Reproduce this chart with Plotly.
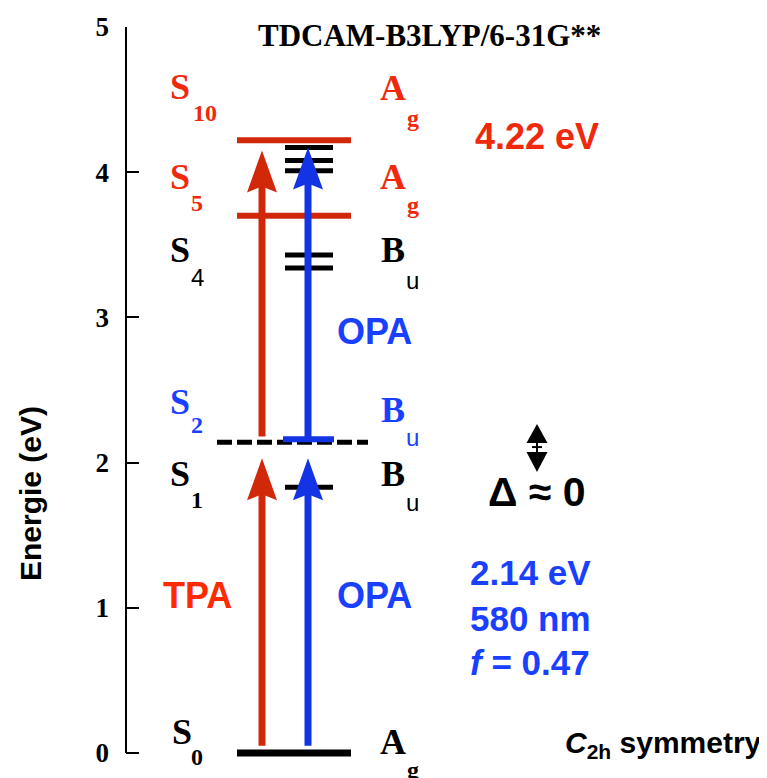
import plotly.graph_objects as go

# ---------------- data ----------------
# energy levels (eV) and their kind
level_energy = [0.00, 1.83, 2.14, 2.16, 3.34, 3.43, 3.70, 4.01, 4.08, 4.17, 4.22]
level_kind = ["ground", "short", "dashed", "blue", "short", "short",
              "red", "short", "short", "short", "red"]

# transitions: type, start energy, tip energy
arrow_type = ["TPA", "TPA", "OPA", "OPA"]
arrow_start = [0.05, 2.18, 0.05, 2.17]
arrow_tip = [2.03, 4.15, 2.03, 4.17]

# state labels
state_letter = ["S", "S", "S", "S", "S", "S"]
state_index = ["10", "5", "4", "2", "1", "0"]
sym_letter = ["A", "A", "B", "B", "B", "A"]
sym_index = ["g", "g", "u", "u", "u", "g"]
state_color = ["red", "red", "black", "blue", "black", "black"]

y_ticks = [0, 1, 2, 3, 4, 5]
y_tick_labels = ["0", "1", "2", "3", "4", "5"]

title_text = "TDCAM-B3LYP/6-31G**"
s10_value = "4.22 eV"
opa_lines = ["2.14 eV", "580 nm", "<i>f</i> = 0.47"]
delta_text = "Δ ≈ 0"
sym_text = "<i>C</i><sub>2h</sub> symmetry"
axis_title = "Energie (eV)"

# ---------------- styles / layout ----------------
W_PX, H_PX = 767, 778      # browser window
OFF = 8                    # default page body margin
L, T, B0 = 126, 27, 753    # axis x, y of 5 eV, y of 0 eV (window pixels)
PPE = (B0 - T) / 5.0       # pixels per eV
EXT = 6                    # extra plot room below 0 eV (pixels)
B = B0 + EXT
Y_LO = -EXT / PPE
PW, PH = W_PX - L, B - T

RED_LINE = "#d2280a"
RED_TEXT = "#f0280c"
BLUE_LINE = "#1234e4"
BLUE_TEXT = "#1a40ff"
COL = {"red": RED_TEXT, "blue": BLUE_TEXT, "black": "black"}
SERIF = "Liberation Serif"
SANS = "Liberation Sans"


def xp(px):
    return (px - L) / PW


def yp(py):
    return (B - py) / PH


kind_style = {
    "ground": dict(x0=237, x1=351, color="black", width=7, dash="solid"),
    "short": dict(x0=285, x1=333, color="black", width=5, dash="solid"),
    "dashed": dict(x0=217, x1=368, color="black", width=5, dash="15px,5px"),
    "blue": dict(x0=283, x1=334, color=BLUE_LINE, width=6, dash="solid"),
    "red": dict(x0=237, x1=351, color=RED_LINE, width=6, dash="solid"),
}
arrow_style = {"TPA": dict(x=262, color=RED_LINE), "OPA": dict(x=308, color=BLUE_LINE)}
HEAD_LEN = 42 / PPE
HEAD_NOTCH = 36 / PPE
HEAD_HALF = 15

shapes = []
# y axis line from 0 to 5 eV
shapes.append(dict(type="line", xref="paper", yref="y", x0=0, x1=0, y0=y_ticks[0], y1=y_ticks[-1],
                   line=dict(color="black", width=2)))
# levels
for e, k in zip(level_energy, level_kind):
    s = kind_style[k]
    shapes.append(dict(type="line", xref="x", yref="y", x0=s["x0"], x1=s["x1"],
                       y0=e, y1=e, line=dict(color=s["color"], width=s["width"], dash=s["dash"])))
# arrows
for t, e0, e1 in zip(arrow_type, arrow_start, arrow_tip):
    s = arrow_style[t]
    x = s["x"]
    shapes.append(dict(type="line", xref="x", yref="y", x0=x, x1=x, y0=e0, y1=e1 - HEAD_NOTCH + 0.02,
                       line=dict(color=s["color"], width=7)))
    path = (f"M {x},{e1} L {x - HEAD_HALF},{e1 - HEAD_LEN} L {x},{e1 - HEAD_NOTCH} "
            f"L {x + HEAD_HALF},{e1 - HEAD_LEN} Z")
    shapes.append(dict(type="path", xref="x", yref="y", path=path,
                       fillcolor=s["color"], line=dict(width=0)))

# double-headed arrow (Δ indicator)
dx = 537
up_tip, up_base, mid, dn_base, dn_tip = 2.266, 2.135, 2.107, 2.073, 1.935
shapes.append(dict(type="path", xref="x", yref="y",
                   path=f"M {dx},{up_tip} L {dx - 10.5},{up_base} L {dx + 10.5},{up_base} Z",
                   fillcolor="black", line=dict(width=0)))
shapes.append(dict(type="path", xref="x", yref="y",
                   path=f"M {dx},{dn_tip} L {dx - 10.5},{dn_base} L {dx + 10.5},{dn_base} Z",
                   fillcolor="black", line=dict(width=0)))
shapes.append(dict(type="line", xref="x", yref="y", x0=dx, x1=dx, y0=up_base, y1=dn_base,
                   line=dict(color="black", width=2)))
shapes.append(dict(type="line", xref="x", yref="y", x0=dx - 5, x1=dx + 5, y0=mid, y1=mid,
                   line=dict(color="black", width=2)))

annotations = []


def ann(text, x, y, size, color, family, bold=True, xanchor="center", angle=0):
    annotations.append(dict(text=text, x=xp(x), y=yp(y), xref="paper", yref="paper",
                            showarrow=False, xanchor=xanchor, yanchor="middle", textangle=angle,
                            font=dict(size=size, color=color, family=family,
                                      weight="bold" if bold else "normal")))


# state label positions (window pixels): letter x, y, sub x, y
left_pos = [(180, 87, 205, 113), (180, 177, 197, 203), (180, 250, 197, 277),
            (180, 402, 197, 425), (180, 474, 197, 500), (182, 732, 197, 757)]
right_pos = [(393, 88, 413, 118), (393, 177, 413, 205), (393, 250, 412, 280),
             (393, 410, 412, 437), (393, 474, 412, 502), (393, 742, 413, 770)]

for i in range(len(state_letter)):
    c = COL[state_color[i]]
    lx, ly, sx, sy = left_pos[i]
    ann(state_letter[i], lx, ly, 36, c, SERIF)
    sub_sans = state_index[i] == "4"
    ann(state_index[i], sx, sy, 24, c, SANS if sub_sans else SERIF, bold=not sub_sans)
    rx, ry, rsx, rsy = right_pos[i]
    ann(sym_letter[i], rx, ry, 36, c, SERIF)
    if sym_index[i] == "u":
        ann("u", rsx, rsy, 24, c, SANS, bold=False)
    else:
        ann("g", rsx, rsy, 24, c, SERIF)

ann(title_text, 429, 35, 31, "black", SERIF)
ann(s10_value, 537, 137, 36, RED_TEXT, SANS)
ann("TPA", 197, 595, 36, "#ff2a00", SANS)
ann("OPA", 374, 331, 36, BLUE_TEXT, SANS)
ann("OPA", 374, 595, 36, BLUE_TEXT, SANS)
for txt, yy in zip(opa_lines, [572, 618, 662]):
    ann(txt, 530, yy, 35, BLUE_TEXT, SANS)
ann(delta_text, 537, 492, 41, "black", SANS)
ann(sym_text, 764, 744, 30, "black", SANS, xanchor="right")
ann(axis_title, 31, 493, 30, "black", SANS, angle=-90)

fig = go.Figure()
fig.add_trace(go.Scatter(x=[L, W_PX], y=[0, 5], mode="markers",
                         marker=dict(opacity=0), hoverinfo="skip", showlegend=False))
fig.update_layout(
    width=W_PX - OFF, height=H_PX - OFF,
    margin=dict(l=L - OFF, r=0, t=T - OFF, b=H_PX - B, pad=0),
    paper_bgcolor="white", plot_bgcolor="white",
    showlegend=False,
    shapes=shapes, annotations=annotations,
    xaxis=dict(range=[L, W_PX], visible=False, fixedrange=True),
    yaxis=dict(range=[Y_LO, 5], tickvals=y_ticks, ticktext=y_tick_labels,
               ticks="inside", ticklen=13, tickwidth=2, tickcolor="black",
               showline=False,
               showgrid=False, zeroline=False, ticklabelstandoff=16,
               tickfont=dict(family=SERIF, size=27, color="black", weight="bold")),
)
fig.write_html("out.html")
